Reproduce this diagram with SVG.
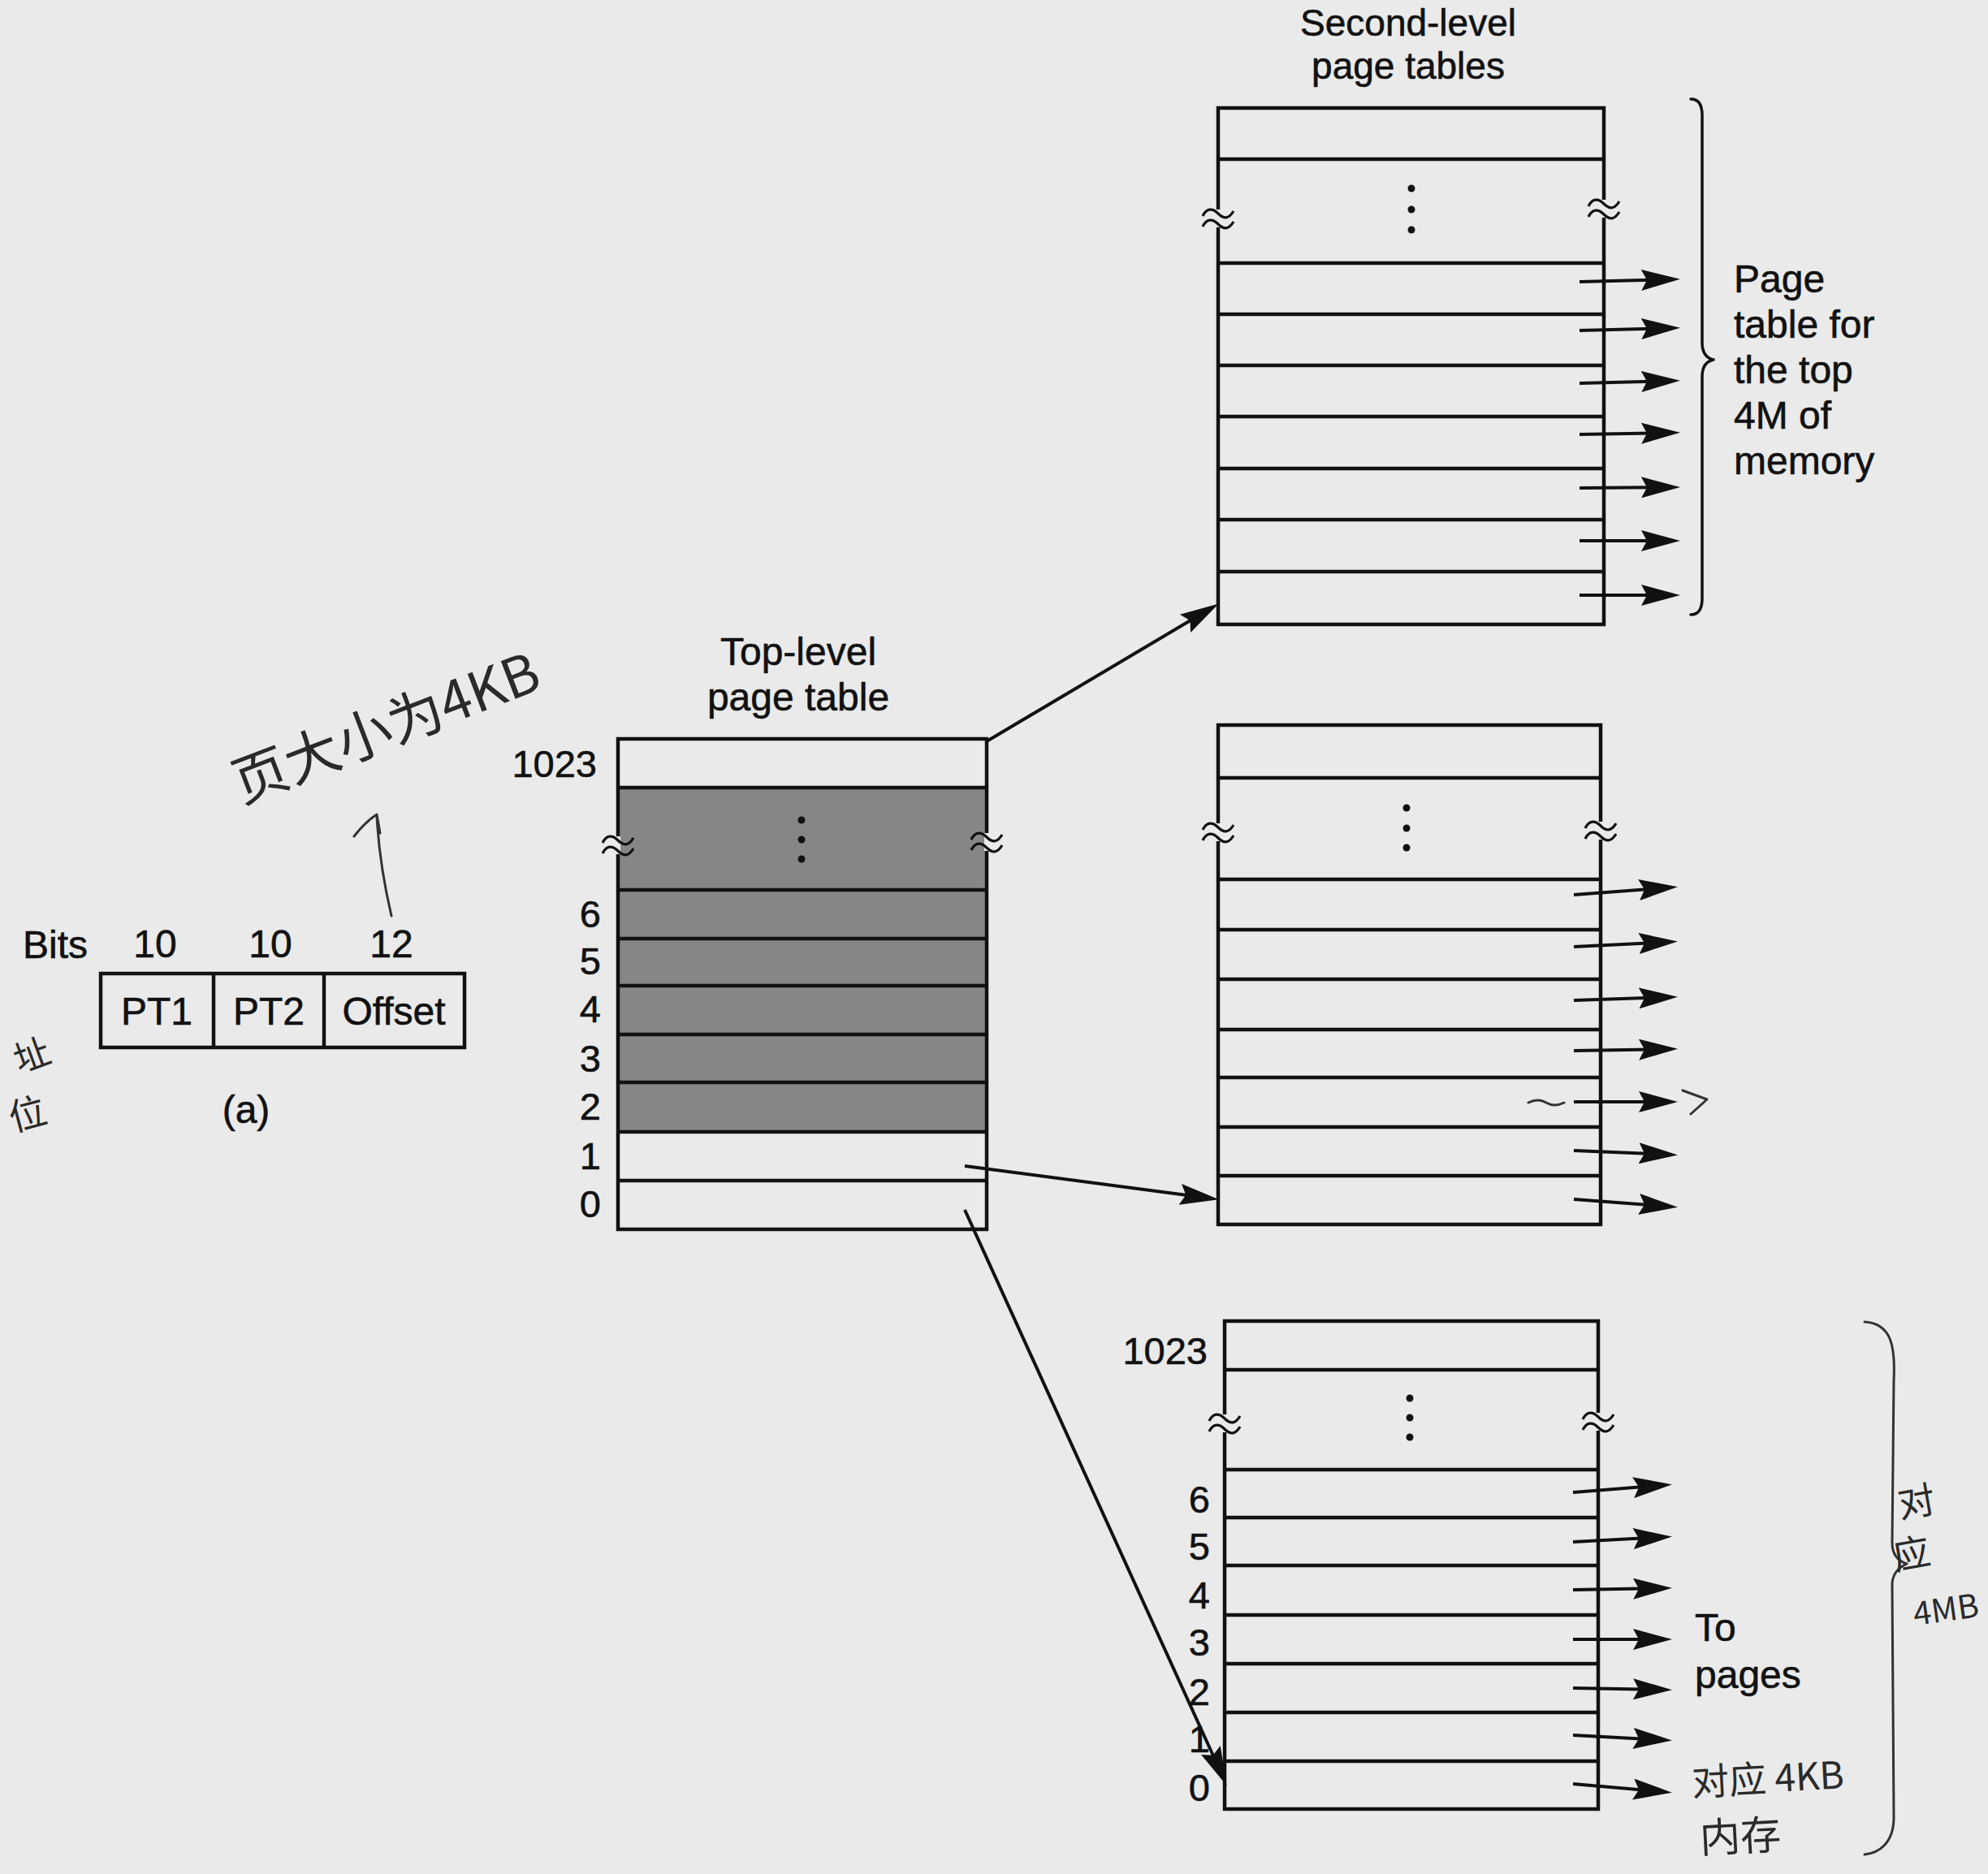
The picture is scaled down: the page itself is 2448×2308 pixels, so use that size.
<svg xmlns="http://www.w3.org/2000/svg" width="2448" height="2308" viewBox="0 0 2448 2308">
<style>
.t{font-family:"Liberation Sans",Arial,sans-serif;font-size:48px;fill:#111;stroke:#111;stroke-width:0.6}
.n{font-family:"Liberation Sans",Arial,sans-serif;font-size:47px;fill:#111;stroke:#111;stroke-width:0.6;text-anchor:end}
.c{text-anchor:middle}
.box{fill:none;stroke:#111;stroke-width:4.5}
.ln{stroke:#111;stroke-width:4.5}
.ar{stroke:#111;stroke-width:4;fill:none;marker-end:url(#ah)}
.hw{font-family:"Noto Sans CJK SC","Liberation Sans",sans-serif;fill:#2a2a2a;font-weight:400}
.hs{fill:none;stroke:#333;stroke-width:3;stroke-linecap:round;stroke-linejoin:round}
</style>
<defs>
<marker id="ah" markerUnits="userSpaceOnUse" markerWidth="50" markerHeight="26" refX="39" refY="13" orient="auto">
<path d="M0,0 L48,13 L0,26 L7,13 Z" fill="#111"/>
</marker>
<g id="brk">
<rect x="-3" y="-10" width="6" height="22" fill="#eaeaea"/>
<path d="M-19,-2 c5,-10 12,-10 19,-3 s13,7 19,-3" fill="none" stroke="#111" stroke-width="3.2"/>
<path d="M-19,11 c5,-10 12,-10 19,-3 s13,7 19,-3" fill="none" stroke="#111" stroke-width="3.2"/>
</g>
</defs>
<rect width="2448" height="2308" fill="#eaeaea"/>

<!-- (a) address format -->
<g id="address-format">
<text class="t" x="28" y="1180">Bits</text>
<text class="t c" x="191" y="1179">10</text>
<text class="t c" x="333" y="1179">10</text>
<text class="t c" x="482" y="1179">12</text>
<rect class="box" x="124" y="1199" width="448" height="91"/>
<line class="ln" x1="263" y1="1199" x2="263" y2="1290"/>
<line class="ln" x1="399" y1="1199" x2="399" y2="1290"/>
<text class="t c" x="193" y="1262">PT1</text>
<text class="t c" x="331" y="1262">PT2</text>
<text class="t c" x="485" y="1262">Offset</text>
<text class="t c" x="303" y="1383">(a)</text>
</g>

<!-- Top-level page table -->
<g id="top-level-table">
<text class="t c" x="983" y="819">Top-level</text>
<text class="t c" x="983" y="875">page table</text>
<rect x="761" y="970" width="454" height="424" fill="#868686"/>
<rect class="box" x="761" y="910" width="454" height="604"/>
<line class="ln" x1="761" y1="970" x2="1215" y2="970"/>
<line class="ln" x1="761" y1="1096" x2="1215" y2="1096"/>
<line class="ln" x1="761" y1="1156" x2="1215" y2="1156"/>
<line class="ln" x1="761" y1="1214" x2="1215" y2="1214"/>
<line class="ln" x1="761" y1="1274" x2="1215" y2="1274"/>
<line class="ln" x1="761" y1="1333" x2="1215" y2="1333"/>
<line class="ln" x1="761" y1="1394" x2="1215" y2="1394"/>
<line class="ln" x1="761" y1="1454" x2="1215" y2="1454"/>
<circle cx="987" cy="1010" r="4.5" fill="#111"/>
<circle cx="987" cy="1034" r="4.5" fill="#111"/>
<circle cx="987" cy="1058" r="4.5" fill="#111"/>
<use href="#brk" x="761" y="1040"/>
<use href="#brk" x="1215" y="1036"/>
<text class="n" x="735" y="957">1023</text>
<text class="n" x="740" y="1142">6</text>
<text class="n" x="740" y="1200">5</text>
<text class="n" x="740" y="1259">4</text>
<text class="n" x="740" y="1320">3</text>
<text class="n" x="740" y="1379">2</text>
<text class="n" x="740" y="1440">1</text>
<text class="n" x="740" y="1499">0</text>
</g>

<!-- Second-level table (top 4M) -->
<g id="second-level-top">
<text class="t c" x="1734" y="44" style="font-size:46px">Second-level</text>
<text class="t c" x="1734" y="97" style="font-size:46px">page tables</text>
<rect class="box" x="1500" y="133" width="475" height="636"/>
<line class="ln" x1="1500" y1="196" x2="1975" y2="196"/>
<line class="ln" x1="1500" y1="324" x2="1975" y2="324"/>
<line class="ln" x1="1500" y1="387" x2="1975" y2="387"/>
<line class="ln" x1="1500" y1="450" x2="1975" y2="450"/>
<line class="ln" x1="1500" y1="513" x2="1975" y2="513"/>
<line class="ln" x1="1500" y1="577" x2="1975" y2="577"/>
<line class="ln" x1="1500" y1="640" x2="1975" y2="640"/>
<line class="ln" x1="1500" y1="704" x2="1975" y2="704"/>
<circle cx="1738" cy="232" r="4.5" fill="#111"/>
<circle cx="1738" cy="258" r="4.5" fill="#111"/>
<circle cx="1738" cy="283" r="4.5" fill="#111"/>
<use href="#brk" x="1500" y="268"/>
<use href="#brk" x="1975" y="256"/>
<path class="hs" style="stroke:#111;stroke-width:3.5" d="M2082,122 Q2096,122 2096,142 L2096,422 Q2096,440 2110,443 Q2096,446 2096,464 L2096,737 Q2096,757 2082,757"/>
<text class="t" x="2135" y="360">Page</text>
<text class="t" x="2135" y="416">table for</text>
<text class="t" x="2135" y="472">the top</text>
<text class="t" x="2135" y="528">4M of</text>
<text class="t" x="2135" y="584">memory</text>
</g>

<!-- Second-level table (middle) -->
<g id="second-level-middle">
<rect class="box" x="1500" y="893" width="471" height="615"/>
<line class="ln" x1="1500" y1="958" x2="1971" y2="958"/>
<line class="ln" x1="1500" y1="1083" x2="1971" y2="1083"/>
<line class="ln" x1="1500" y1="1145" x2="1971" y2="1145"/>
<line class="ln" x1="1500" y1="1206" x2="1971" y2="1206"/>
<line class="ln" x1="1500" y1="1268" x2="1971" y2="1268"/>
<line class="ln" x1="1500" y1="1327" x2="1971" y2="1327"/>
<line class="ln" x1="1500" y1="1388" x2="1971" y2="1388"/>
<line class="ln" x1="1500" y1="1448" x2="1971" y2="1448"/>
<circle cx="1732" cy="995" r="4.5" fill="#111"/>
<circle cx="1732" cy="1020" r="4.5" fill="#111"/>
<circle cx="1732" cy="1044" r="4.5" fill="#111"/>
<use href="#brk" x="1500" y="1024"/>
<use href="#brk" x="1971" y="1022"/>
</g>

<!-- Second-level table (bottom) -->
<g id="second-level-bottom">
<rect class="box" x="1508" y="1627" width="460" height="601"/>
<line class="ln" x1="1508" y1="1687" x2="1968" y2="1687"/>
<line class="ln" x1="1508" y1="1810" x2="1968" y2="1810"/>
<line class="ln" x1="1508" y1="1869" x2="1968" y2="1869"/>
<line class="ln" x1="1508" y1="1928" x2="1968" y2="1928"/>
<line class="ln" x1="1508" y1="1989" x2="1968" y2="1989"/>
<line class="ln" x1="1508" y1="2049" x2="1968" y2="2049"/>
<line class="ln" x1="1508" y1="2109" x2="1968" y2="2109"/>
<line class="ln" x1="1508" y1="2169" x2="1968" y2="2169"/>
<circle cx="1736" cy="1722" r="4.5" fill="#111"/>
<circle cx="1736" cy="1746" r="4.5" fill="#111"/>
<circle cx="1736" cy="1770" r="4.5" fill="#111"/>
<use href="#brk" x="1508" y="1752"/>
<use href="#brk" x="1968" y="1750"/>
<text class="n" x="1487" y="1680">1023</text>
<text class="n" x="1490" y="1863">6</text>
<text class="n" x="1490" y="1921">5</text>
<text class="n" x="1490" y="1981">4</text>
<text class="n" x="1490" y="2039">3</text>
<text class="n" x="1490" y="2100">2</text>
<text class="n" x="1490" y="2158">1</text>
<text class="n" x="1490" y="2218">0</text>
<text class="t" x="2087" y="2021">To</text>
<text class="t" x="2087" y="2079">pages</text>
</g>

<!-- Connectors -->
<g id="connectors">
<line class="ar" x1="1215" y1="913" x2="1493" y2="748"/>
<line class="ar" x1="1188" y1="1436" x2="1492" y2="1476"/>
<line class="ar" x1="1188" y1="1490" x2="1507" y2="2191"/>
<line class="ar" x1="1945" y1="347" x2="2060" y2="344"/>
<line class="ar" x1="1945" y1="407" x2="2060" y2="404"/>
<line class="ar" x1="1945" y1="472" x2="2060" y2="469"/>
<line class="ar" x1="1945" y1="535" x2="2060" y2="533"/>
<line class="ar" x1="1945" y1="601" x2="2060" y2="600"/>
<line class="ar" x1="1945" y1="666" x2="2060" y2="666"/>
<line class="ar" x1="1945" y1="733" x2="2060" y2="733"/>
<line class="ar" x1="1938" y1="1102" x2="2057" y2="1093"/>
<line class="ar" x1="1938" y1="1166" x2="2057" y2="1160"/>
<line class="ar" x1="1938" y1="1232" x2="2057" y2="1228"/>
<line class="ar" x1="1938" y1="1294" x2="2057" y2="1292"/>
<line class="ar" x1="1938" y1="1357" x2="2057" y2="1357"/>
<line class="ar" x1="1938" y1="1417" x2="2057" y2="1422"/>
<line class="ar" x1="1938" y1="1477" x2="2057" y2="1486"/>
<line class="ar" x1="1937" y1="1838" x2="2050" y2="1829"/>
<line class="ar" x1="1937" y1="1899" x2="2050" y2="1893"/>
<line class="ar" x1="1937" y1="1958" x2="2050" y2="1956"/>
<line class="ar" x1="1937" y1="2019" x2="2050" y2="2019"/>
<line class="ar" x1="1937" y1="2079" x2="2050" y2="2081"/>
<line class="ar" x1="1937" y1="2137" x2="2050" y2="2143"/>
<line class="ar" x1="1937" y1="2197" x2="2050" y2="2207"/>
</g>

<!-- Handwritten annotations -->
<g id="handwriting">
<text class="hw" font-size="68" transform="translate(298,990) rotate(-21)">页大小为4KB</text>
<path class="hs" d="M482,1128 C472,1085 466,1045 464,1005 M436,1030 Q450,1012 464,1003 L468,1026"/>
<text class="hw" font-size="44" transform="translate(24,1322) rotate(-20)">址</text>
<text class="hw" font-size="46" transform="translate(16,1394) rotate(-15)">位</text>
<path class="hs" d="M1882,1358 q12,-6 22,0 t22,0 M2072,1343 L2102,1354 L2082,1372"/>
<path class="hs" d="M2296,1628 C2330,1630 2334,1660 2332,1700 L2330,1900 Q2330,1920 2348,1926 Q2330,1934 2330,1952 L2332,2238 C2332,2270 2314,2282 2296,2284"/>
<text class="hw" font-size="46" transform="translate(2340,1870) rotate(-10)">对</text>
<text class="hw" font-size="46" transform="translate(2334,1934) rotate(-10)">应</text>
<text class="hw" font-size="40" transform="translate(2358,2002) rotate(-8)">4MB</text>
<text class="hw" font-size="46" transform="translate(2084,2212) rotate(-3)">对应 4KB</text>
<text class="hw" font-size="50" transform="translate(2094,2282) rotate(-3)">内存</text>
</g>
</svg>
